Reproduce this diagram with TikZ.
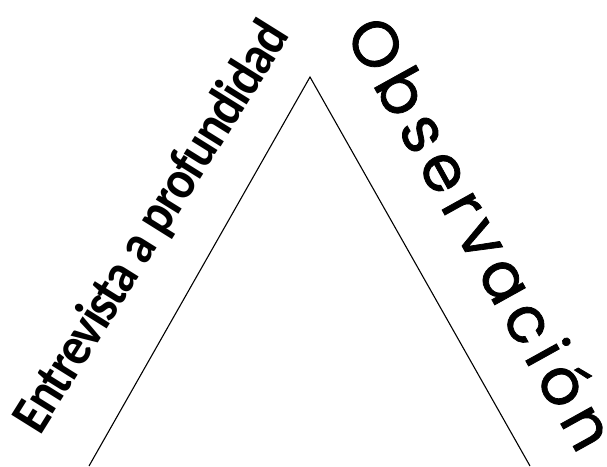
\documentclass[tikz,border=0pt]{standalone}
\usepackage{fontspec}
\newfontfamily\carlito[LetterSpace=-3,FakeStretch=0.9]{Carlito}
\newfontfamily\poppins[LetterSpace=12,FakeBold=1.2]{Poppins}
\usetikzlibrary{positioning}

\begin{document}
\begin{tikzpicture}[x=1pt,y=1pt,
    side/.style={draw=black,line width=1.1pt},
    method/.style={inner sep=0pt,outer sep=0pt}]
  \useasboundingbox (0,0) rectangle (607,466);
  \coordinate (apex) at (310,389);
  \coordinate (left) at (89,0);
  \coordinate (right) at (530,0);
  \draw[side] (left)--(apex)--(right);
  \node[method,anchor=base west,rotate=58,font=\carlito\bfseries\fontsize{55}{60}\selectfont]
    (entrevista) at (40,30) {Entrevista a profundidad};
  \node[method,anchor=base west,rotate=-61,font=\poppins\fontsize{64}{70}\selectfont]
    (observacion) at (344,433) {Observación};
\end{tikzpicture}
\end{document}
